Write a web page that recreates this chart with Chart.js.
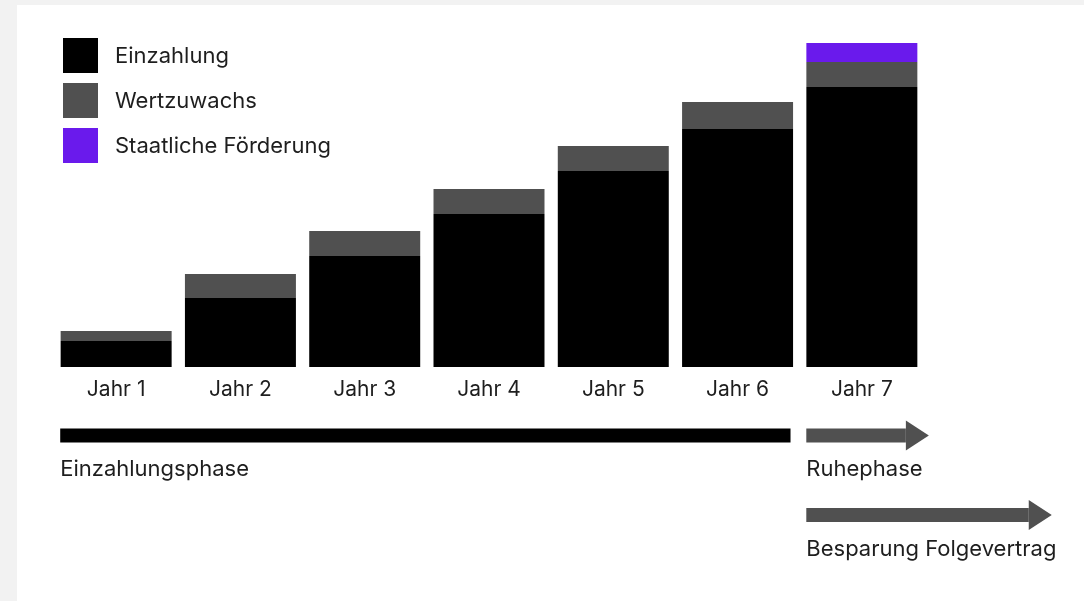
<!DOCTYPE html>
<html>
<head>
<meta charset="utf-8">
<script src="https://cdn.jsdelivr.net/npm/chart.js@4.4.1/dist/chart.umd.min.js"></script>
<style>
  html, body { margin: 0; padding: 0; width: 1084px; height: 601px; overflow: hidden; background: #f2f2f2; }
  #panel { position: absolute; left: 17px; top: 5px; right: 0; bottom: 0; background: #fff; }
  #wrap { position: absolute; left: 0; top: 0; width: 1084px; height: 601px; }
</style>
</head>
<body>
<div id="panel"></div>
<div id="wrap"><canvas id="chart"></canvas></div>
<script>
// Sparplan — gestapelte Balken je Jahr
const years = ['Jahr 1', 'Jahr 2', 'Jahr 3', 'Jahr 4', 'Jahr 5', 'Jahr 6', 'Jahr 7'];
const einzahlung = [26, 69, 111, 153, 196, 238, 280];
const wertzuwachs = [10, 24, 25, 25, 25, 27, 25];
const foerderung = [0, 0, 0, 0, 0, 0, 19];

const seriesNames = ['Einzahlung', 'Wertzuwachs', 'Staatliche Förderung'];
const seriesColors = ['#000000', '#505050', '#6a1aec'];

// Phasen unter der Achse (Start/Ende in Kategorie-Einheiten)
const phaseNames = ['Einzahlungsphase', 'Ruhephase', 'Besparung Folgevertrag'];
const phaseStart = [-0.45, 5.553, 5.553];
const phaseEnd = [5.426, 6.539, 7.528];
const phaseArrow = [false, true, true];
const phaseColors = ['#000000', '#505050', '#505050'];

const FONT = 'Inter, "Noto Sans", sans-serif';
Chart.defaults.font.family = FONT;
Chart.defaults.color = '#1e1e1e';

const legendPlugin = {
  id: 'boxLegend',
  afterDraw(chart) {
    const ctx = chart.ctx;
    ctx.save();
    ctx.font = '22px ' + FONT;
    ctx.textBaseline = 'middle';
    chart.data.datasets.forEach((ds, i) => {
      const y = 38 + i * 45;
      ctx.fillStyle = ds.backgroundColor;
      ctx.fillRect(63, y, 35, 35);
      ctx.fillStyle = '#1e1e1e';
      ctx.fillText(ds.label, 115, y + 18.5);
    });
    ctx.restore();
  }
};

const phasePlugin = {
  id: 'phases',
  afterDraw(chart) {
    const ctx = chart.ctx;
    const x = chart.scales.x;
    ctx.save();
    let row = 0;
    phaseNames.forEach((name, i) => {
      const x0 = x.getPixelForValue(phaseStart[i]);
      const x1 = x.getPixelForValue(phaseEnd[i]);
      if (i === 2) row = 1;
      const cy = 435.5 + row * 79.5;
      ctx.fillStyle = phaseColors[i];
      if (phaseArrow[i]) {
        const head = 23;
        ctx.fillRect(x0, cy - 7, x1 - head - x0, 14);
        ctx.beginPath();
        ctx.moveTo(x1 - head, cy - 15);
        ctx.lineTo(x1, cy);
        ctx.lineTo(x1 - head, cy + 15);
        ctx.closePath();
        ctx.fill();
      } else {
        ctx.fillRect(x0, cy - 7, x1 - x0, 14);
      }
      ctx.fillStyle = '#1e1e1e';
      ctx.font = '22px ' + FONT;
      ctx.textBaseline = 'middle';
      ctx.fillText(name, x0, cy + 34);
    });
    ctx.restore();
  }
};

new Chart(document.getElementById('chart'), {
  type: 'bar',
  data: {
    labels: years,
    datasets: [einzahlung, wertzuwachs, foerderung].map((d, i) => ({
      label: seriesNames[i],
      data: d,
      backgroundColor: seriesColors[i],
      borderWidth: 0,
      barPercentage: 0.893,
      categoryPercentage: 1
    }))
  },
  options: {
    responsive: true, maintainAspectRatio: false,
    animation: false,
    layout: { padding: { left: 54, right: 160, top: 42, bottom: 194 } },
    scales: {
      x: {
        stacked: true,
        grid: { display: false, drawTicks: false },
        border: { display: false },
        ticks: { padding: 10, font: { size: 21 }, color: '#1e1e1e' },
        afterFit: s => { s.height = 40; }
      },
      y: { stacked: true, display: false, min: 0, max: 325 }
    },
    plugins: {
      legend: { display: false },
      tooltip: { enabled: true }
    }
  },
  plugins: [legendPlugin, phasePlugin]
});
</script>
</body>
</html>
